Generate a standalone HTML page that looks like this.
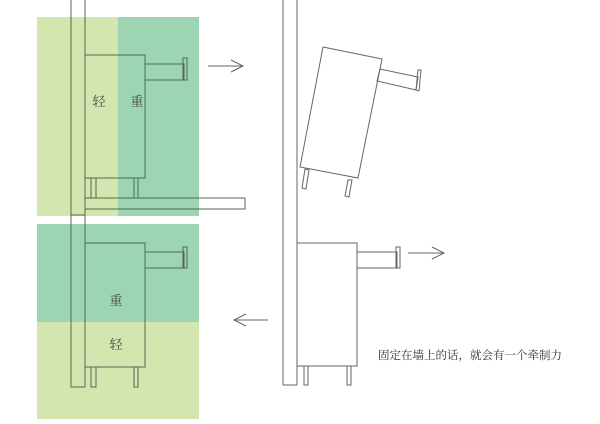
<!DOCTYPE html>
<html><head><meta charset="utf-8"><style>
html,body{margin:0;padding:0;background:#fff;width:600px;height:424px;overflow:hidden}
</style></head><body>
<svg width="600" height="424" xmlns="http://www.w3.org/2000/svg" font-family="'Liberation Serif','Noto Serif CJK SC',serif">
<rect x="37" y="17" width="81" height="199" fill="#d3e6b0"/>
<rect x="118" y="17" width="81" height="199" fill="#9dd4b2"/>
<rect x="37" y="224" width="162" height="98" fill="#9dd4b2"/>
<rect x="37" y="322" width="162" height="97" fill="#d3e6b0"/>
<g fill="none" stroke="#4f6a50" stroke-width="1">
<line x1="71" y1="0" x2="71" y2="218"/><line x1="85" y1="0" x2="85" y2="218"/>
<rect x="85" y="55" width="60" height="123"/>
<rect x="145" y="64" width="39" height="16"/><rect x="183" y="58" width="4" height="22"/>
<rect x="91" y="178" width="5" height="20"/><rect x="134" y="178" width="4" height="20"/>
<rect x="85" y="198" width="160" height="11"/>
<rect x="71" y="215" width="14" height="172"/>
<rect x="85" y="243" width="60" height="124"/>
<rect x="145" y="252" width="39" height="16"/><rect x="183" y="247" width="4" height="21"/>
<rect x="91" y="367" width="5" height="20"/><rect x="134" y="367" width="4" height="20"/>
</g>
<g fill="none" stroke="#666" stroke-width="1">
<line x1="208" y1="66" x2="242" y2="66"/><polyline points="231,60 243,66 231,72"/>
<line x1="268" y1="320" x2="235" y2="320"/><polyline points="246,314 234,320 246,326"/>
<line x1="408" y1="253" x2="444" y2="253"/><polyline points="432,247 444,253 432,259"/>
<line x1="283" y1="0" x2="283" y2="385"/><line x1="297" y1="0" x2="297" y2="385"/><line x1="283" y1="385" x2="297" y2="385"/>
<polygon points="323,47 382,59 358,178 300,167"/>
<polygon points="380,69 418,77 416,90 377,81"/>
<polygon points="418,70 421,70 419,91 416,90"/>
<polygon points="305,169 309,170 306,189 302,188"/>
<polygon points="348,180 352,180 349,197 345,196"/>
<rect x="297" y="243" width="60" height="123"/>
<rect x="357" y="252" width="40" height="16"/><rect x="396" y="247" width="4" height="21"/>
<rect x="304" y="366" width="4" height="19"/><rect x="347" y="366" width="4" height="19"/>
</g>
<g font-size="13" fill="#3c4a3c" text-anchor="middle">
<text x="99" y="106">轻</text><text x="137" y="106">重</text>
<text x="116" y="305">重</text><text x="116" y="349">轻</text>
</g>
<text x="378" y="359" font-size="11.5" fill="#333">固定在墙上的话，就会有一个牵制力</text>
</svg>
</body></html>
